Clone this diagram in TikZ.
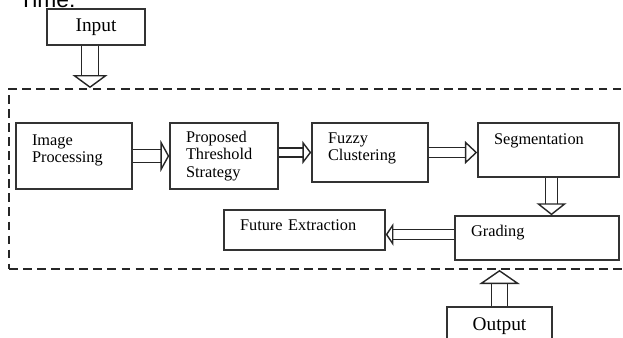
\documentclass[tikz,border=0pt]{standalone}
\usepackage{fontspec}
\setmainfont{Liberation Serif}
\newfontfamily\headsans{Liberation Sans}
\usetikzlibrary{arrows.meta}

\begin{document}
\begin{tikzpicture}[x=0.02cm, y=-0.02cm,
    box/.style={draw=black!80, line width=0.85pt, inner xsep=0.32cm, inner ysep=0pt,
                align=left, font=\fontsize{9.3}{9.8}\selectfont},
    io/.style={draw=black!80, line width=0.85pt, font=\fontsize{11}{13}\selectfont},
    frame/.style={draw=black!85, line width=1.1pt, dash pattern=on 5pt off 3pt, inner sep=0pt},
    hollow/.style n args={3}{draw=black!85, line width=0.8pt, double, double distance=#1,
                -{Triangle[open, width=#2, length=#3]}}]
    \useasboundingbox (0,0) rectangle (623,338);
    \clip (0,0) rectangle (623,338);

    \node[anchor=base west, font=\headsans\fontsize{13}{15}\selectfont] (time) at (13,8) {Time:};
    \node[io, minimum width=1.96cm, minimum height=0.72cm] (inp) at (96,27) {Input};
    \node[frame, minimum width=12.62cm, minimum height=3.6cm] (sys) at (324.5,179) {};

    \node[box, text width=1.68cm, minimum height=1.32cm, text depth=0.64cm] (ip) at (74,156) {Image\\Processing};
    \node[box, text width=1.52cm, minimum height=1.32cm] (pts) at (224,156) {Proposed\\Threshold\\Strategy};
    \node[box, text width=1.68cm, minimum height=1.18cm, text depth=0.57cm] (fc) at (370,152.5) {Fuzzy\\Clustering};
    \node[box, text width=2.18cm, minimum height=1.08cm, text depth=0.44cm] (seg) at (548.5,150) {Segmentation};
    \node[box, text width=2.64cm, minimum height=0.88cm, text depth=0.27cm] (grd) at (537,238) {Grading};
    \node[box, text width=2.58cm, minimum height=0.8cm, text depth=0.19cm] (fe) at (304.5,230) {Future Extraction};
    \node[io, minimum width=2.1cm, minimum height=0.76cm] (out) at (499.5,326) {Output};

    \coordinate (ia) at ([xshift=-0.12cm]inp.south);
    \coordinate (sg) at ([xshift=0.06cm]seg.south);
    \coordinate (gf) at ([yshift=0.07cm]grd.west);

    \draw[hollow={8.6pt}{20pt}{7.4pt}] (ia) -- (ia |- sys.north);
    \draw[hollow={6.4pt}{18pt}{5pt}] (ip) -- (pts);
    \draw[hollow={4.4pt}{13pt}{5pt}] (fc.west -| pts.east) -- (fc.west);
    \draw[hollow={4.8pt}{13pt}{7pt}] (fc.east) -- (fc.east -| seg.west);
    \draw[hollow={6pt}{17pt}{6.8pt}] (sg) -- (sg |- grd.north);
    \draw[hollow={4.8pt}{13pt}{4.4pt}] (gf) -- (gf -| fe.east);
    \draw[hollow={8pt}{23pt}{8pt}] (out) -- (out |- sys.south);
\end{tikzpicture}
\end{document}
